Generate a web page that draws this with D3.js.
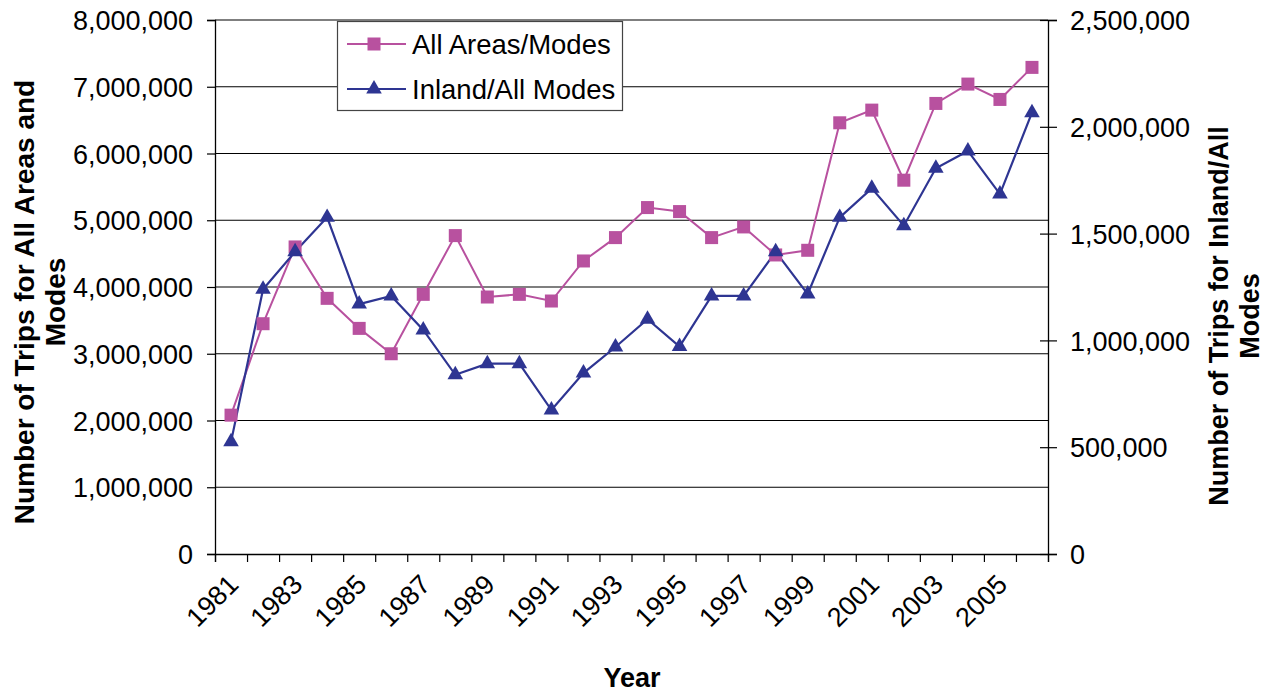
<!DOCTYPE html>
<html>
<head>
<meta charset="utf-8">
<script src="https://cdn.jsdelivr.net/npm/d3@7"></script>
<style>
	html, body { margin: 0; padding: 0; background: #fff; }
	svg { display: block; font-family: "Liberation Sans", Arial, sans-serif; }
</style>
</head>
<body>
<div id="chart"></div>
<script>
// Data
const years = d3.range(1981, 2007);
const allAreasModes = [2080000, 3450000, 4600000, 3830000, 3380000, 3000000, 3890000, 4770000, 3850000, 3890000,
	3790000, 4390000, 4740000, 5190000, 5130000, 4740000, 4900000, 4480000, 4550000, 6460000,
	6650000, 5600000, 6750000, 7040000, 6810000, 7290000];
const inlandAllModes = [525000, 1239000, 1415000, 1576000, 1170000, 1208000, 1049000, 839000, 891000, 891000,
	674000, 847000, 969000, 1099000, 971000, 1208000, 1208000, 1415000, 1217000, 1576000,
	1712000, 1537000, 1806000, 1887000, 1685000, 2066000];
const leftTicks = [0, 1000000, 2000000, 3000000, 4000000, 5000000, 6000000, 7000000, 8000000];
const rightTicks = [0, 500000, 1000000, 1500000, 2000000, 2500000];
const labelYears = [1981, 1983, 1985, 1987, 1989, 1991, 1993, 1995, 1997, 1999, 2001, 2003, 2005];

(function() {
	const W = 1276, H = 694;
	const plot = { left: 215, right: 1048, top: 20, bottom: 554 };
	const pink = '#b8519f';
	const blue = '#2e3592';
	const fmt = d3.format(',');

	const svg = d3.select('#chart').append('svg')
		.attr('width', W)
		.attr('height', H);

	// Scales
	const x = d3.scaleBand().domain(years).range([plot.left, plot.right]).padding(0);
	const xEdge = d3.scaleLinear().domain([0, years.length]).range([plot.left, plot.right]);
	const yL = d3.scaleLinear().domain([0, 8000000]).range([plot.bottom, plot.top]);
	const yR = d3.scaleLinear().domain([0, 2500000]).range([plot.bottom, plot.top]);
	const cx = function(yr) { return x(yr) + x.bandwidth() / 2; };

	// Gridlines
	svg.append('g')
		.selectAll('line')
		.data(leftTicks.slice(1))
		.join('line')
		.attr('x1', plot.left)
		.attr('x2', plot.right)
		.attr('y1', function(d) { return yL(d); })
		.attr('y2', function(d) { return yL(d); })
		.attr('stroke', '#000')
		.attr('stroke-width', 1.2);

	// Left axis
	const leftAxis = svg.append('g')
		.attr('transform', 'translate(' + plot.left + ',0)')
		.call(d3.axisLeft(yL).tickValues(leftTicks).tickFormat(fmt).tickSize(8).tickPadding(14));

	// Right axis
	const rightAxis = svg.append('g')
		.attr('transform', 'translate(' + plot.right + ',0)')
		.call(d3.axisRight(yR).tickValues(rightTicks).tickFormat(fmt).tickSize(9).tickPadding(13));
	rightAxis.selectAll('.tick line').attr('x1', -8);

	// Bottom axis (tick marks on category boundaries)
	const bottomAxis = svg.append('g')
		.attr('transform', 'translate(0,' + plot.bottom + ')')
		.call(d3.axisBottom(xEdge).tickValues(d3.range(years.length + 1)).tickFormat('').tickSize(8));

	[leftAxis, rightAxis, bottomAxis].forEach(function(g) {
		g.select('.domain').attr('stroke', '#000').attr('stroke-width', 1.3);
		g.selectAll('.tick line').attr('stroke', '#000').attr('stroke-width', 1.2);
		g.selectAll('.tick text')
			.attr('fill', '#000')
			.style('font-size', '27px')
			.style('font-family', '"Liberation Sans", Arial, sans-serif');
	});
	leftAxis.selectAll('.tick text').attr('dy', '0.36em');
	rightAxis.selectAll('.tick text').attr('dy', '0.36em');

	// Rotated year labels
	svg.append('g')
		.selectAll('text')
		.data(labelYears)
		.join('text')
		.attr('transform', function(d) { return 'translate(' + (cx(d) + 9) + ',586) rotate(-45)'; })
		.attr('text-anchor', 'end')
		.style('font-size', '27px')
		.attr('fill', '#000')
		.text(function(d) { return d; });

	// Axis titles
	svg.append('text')
		.attr('x', 632)
		.attr('y', 687)
		.attr('text-anchor', 'middle')
		.style('font-size', '27px')
		.style('font-weight', 'bold')
		.text('Year');

	const leftTitle = svg.append('text')
		.attr('transform', 'translate(34,302) rotate(-90)')
		.attr('text-anchor', 'middle')
		.style('font-size', '28px')
		.style('font-weight', 'bold');
	leftTitle.append('tspan').attr('x', 0).attr('y', 0).text('Number of Trips for All Areas and');
	leftTitle.append('tspan').attr('x', 0).attr('y', 31).text('Modes');

	const rightTitle = svg.append('text')
		.attr('transform', 'translate(1228,316) rotate(-90)')
		.attr('text-anchor', 'middle')
		.style('font-size', '27px')
		.style('font-weight', 'bold');
	rightTitle.append('tspan').attr('x', 0).attr('y', 0).text('Number of Trips for Inland/All');
	rightTitle.append('tspan').attr('x', 0).attr('y', 31).text('Modes');

	// Series lines
	const lineL = d3.line()
		.x(function(d, i) { return cx(years[i]); })
		.y(function(d) { return yL(d); });
	const lineR = d3.line()
		.x(function(d, i) { return cx(years[i]); })
		.y(function(d) { return yR(d); });

	svg.append('path')
		.datum(allAreasModes)
		.attr('d', lineL)
		.attr('fill', 'none')
		.attr('stroke', pink)
		.attr('stroke-width', 2);

	svg.append('path')
		.datum(inlandAllModes)
		.attr('d', lineR)
		.attr('fill', 'none')
		.attr('stroke', blue)
		.attr('stroke-width', 2.2);

	const sq = 13;
	svg.append('g')
		.selectAll('rect')
		.data(allAreasModes)
		.join('rect')
		.attr('x', function(d, i) { return cx(years[i]) - sq / 2; })
		.attr('y', function(d) { return yL(d) - sq / 2; })
		.attr('width', sq)
		.attr('height', sq)
		.attr('fill', pink);

	const tri = d3.symbol().type(d3.symbolTriangle).size(105);
	svg.append('g')
		.selectAll('path')
		.data(inlandAllModes)
		.join('path')
		.attr('transform', function(d, i) { return 'translate(' + cx(years[i]) + ',' + yR(d) + ')'; })
		.attr('d', tri)
		.attr('fill', blue);

	// Legend
	const legend = svg.append('g');
	legend.append('rect')
		.attr('x', 337.5)
		.attr('y', 21.5)
		.attr('width', 285)
		.attr('height', 89)
		.attr('fill', '#fff')
		.attr('stroke', '#444')
		.attr('stroke-width', 1.2);

	const legendItems = [
		{ name: 'All Areas/Modes', color: pink, marker: 'square', y: 44 },
		{ name: 'Inland/All Modes', color: blue, marker: 'triangle', y: 89 }
	];
	legendItems.forEach(function(item) {
		legend.append('line')
			.attr('x1', 347)
			.attr('x2', 406)
			.attr('y1', item.y)
			.attr('y2', item.y)
			.attr('stroke', item.color)
			.attr('stroke-width', 2);
		if (item.marker === 'square') {
			legend.append('rect')
				.attr('x', 374 - sq / 2)
				.attr('y', item.y - sq / 2)
				.attr('width', sq)
				.attr('height', sq)
				.attr('fill', item.color);
		} else {
			legend.append('path')
				.attr('transform', 'translate(374,' + item.y + ')')
				.attr('d', tri)
				.attr('fill', item.color);
		}
		legend.append('text')
			.attr('x', 412)
			.attr('y', item.y)
			.attr('dy', '0.36em')
			.style('font-size', '27.5px')
			.text(item.name);
	});
})();
</script>
</body>
</html>
